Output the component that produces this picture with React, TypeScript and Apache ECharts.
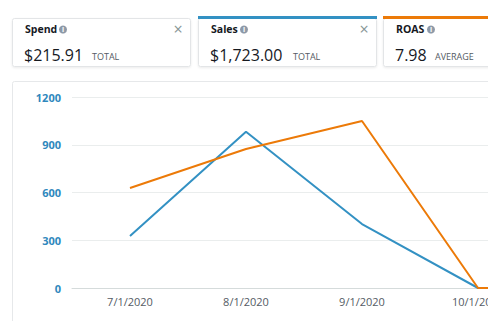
import React, { useEffect, useRef } from "react";
import * as echarts from "echarts";

const categories = ["7/1/2020", "8/1/2020", "9/1/2020", "10/1/2020", "11/1/2020"];
const salesValues = [327, 982, 402, 0, 0];
const roasValues = [628, 873, 1049, 0, 0];
const yTicks = { min: 0, max: 1200, interval: 300 };

const cards = [
  { title: "Spend", value: "$215.91", unit: "TOTAL", x: 12, w: 178, accent: "", iconX: 63, closable: true, unitX: 92 },
  { title: "Sales", value: "$1,723.00", unit: "TOTAL", x: 198, w: 178, accent: "#3391c3", iconX: 244, closable: true, unitX: 293 },
  { title: "ROAS", value: "7.98", unit: "AVERAGE", x: 383, w: 130, accent: "#ec7a08", iconX: 431, closable: false, unitX: 435 },
];

const FONT = "'Open Sans', 'Noto Sans', sans-serif";

export default function App() {
  const ref = useRef<HTMLDivElement>(null);
  useEffect(() => {
    if (!ref.current) return;
    const chart = echarts.init(ref.current, null, { renderer: "svg" });
    const graphics: any[] = [
      {
        type: "rect",
        z: -10,
        shape: { x: 12.5, y: 81.5, width: 520, height: 260, r: 2 },
        style: { fill: "#fff", stroke: "#e6e8ea", lineWidth: 1 },
      },
    ];
    cards.forEach((c) => {
      graphics.push({
        type: "rect",
        z: 1,
        shape: { x: c.x + 0.5, y: 18.5, width: c.w, height: 48, r: 2 },
        style: { fill: "#fff", stroke: "#e3e5e7", lineWidth: 1, shadowBlur: 2, shadowColor: "rgba(0,0,0,0.08)", shadowOffsetY: 1 },
      });
      if (c.accent) {
        graphics.push({
          type: "rect",
          z: 2,
          shape: { x: c.x, y: 16, width: c.w + 1, height: 3 },
          style: { fill: c.accent },
        });
      }
      graphics.push({
        type: "text",
        z: 3,
        x: c.x + 13,
        y: 29,
        style: { text: c.title, fill: "#16191f", font: `bold 10.5px ${FONT}`, textVerticalAlign: "middle" },
      });
      graphics.push({
        type: "circle",
        z: 3,
        shape: { cx: c.iconX, cy: 29.5, r: 4 },
        style: { fill: "#8d99a8" },
      });
      graphics.push({
        type: "text",
        z: 4,
        x: c.iconX,
        y: 29.5,
        style: { text: "i", fill: "#fff", font: `bold 7px ${FONT}`, textAlign: "center", textVerticalAlign: "middle" },
      });
      if (c.closable) {
        graphics.push({
          type: "text",
          z: 3,
          x: c.x + c.w - 12,
          y: 29,
          style: { text: "×", fill: "#879596", font: `16px ${FONT}`, textAlign: "center", textVerticalAlign: "middle" },
        });
      }
      graphics.push({
        type: "text",
        z: 3,
        x: c.x + 12,
        y: 63,
        style: { text: c.value, fill: "#16191f", font: `16px ${FONT}`, textVerticalAlign: "bottom" },
      });
      graphics.push({
        type: "text",
        z: 3,
        x: c.unitX,
        y: 61,
        style: { text: c.unit, fill: "#545b64", font: `9px ${FONT}`, textVerticalAlign: "bottom" },
      });
    });

    chart.setOption({
      animation: false,
      grid: { left: 72, top: 97, height: 191, width: 580, containLabel: false, outerBoundsMode: "none" },
      xAxis: {
        type: "category",
        data: categories,
        boundaryGap: true,
        axisLine: { lineStyle: { color: "#d5dbdb", width: 1 } },
        axisTick: { show: false },
        axisLabel: { color: "#545b64", fontSize: 11, fontFamily: FONT, margin: 8, interval: 0 },
      },
      yAxis: {
        type: "value",
        min: yTicks.min,
        max: yTicks.max,
        interval: yTicks.interval,
        axisLine: { show: false },
        axisTick: { show: false },
        splitLine: { lineStyle: { color: "#eaeded", width: 1 } },
        axisLabel: {
          color: "#2f88bd",
          fontSize: 11,
          fontWeight: "bold",
          fontFamily: FONT,
          margin: 11,
          formatter: (v: number) => String(v),
        },
      },
      series: [
        {
          name: "Sales",
          type: "line",
          data: salesValues,
          symbol: "none",
          lineStyle: { color: "#3391c3", width: 2 },
          itemStyle: { color: "#3391c3" },
          z: 2,
        },
        {
          name: "ROAS",
          type: "line",
          data: roasValues,
          symbol: "none",
          lineStyle: { color: "#ec7a08", width: 2 },
          itemStyle: { color: "#ec7a08" },
          z: 3,
        },
      ],
      graphic: graphics,
    });
    return () => chart.dispose();
  }, []);
  return (
    <div
      ref={ref}
      style={{ position: "fixed", left: 0, top: 0, width: 488, height: 321, background: "#fff" }}
    />
  );
}
